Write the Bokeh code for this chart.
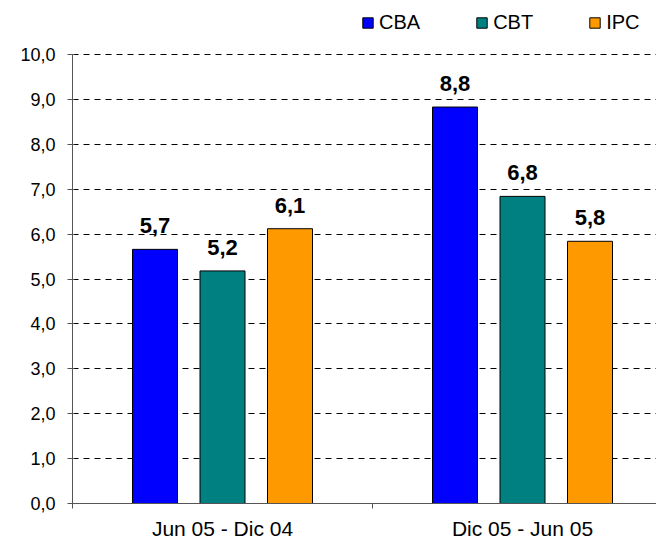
from bokeh.plotting import figure
from bokeh.models import ColumnDataSource, FixedTicker, Legend, LegendItem, Range1d
from bokeh.core.properties import value
from bokeh.embed import file_html
from bokeh.resources import INLINE

# ---- data ----
periods = ["Jun 05 - Dic 04", "Dic 05 - Jun 05"]
series = ["CBA", "CBT", "IPC"]
cba = [5.66, 8.83]
cbt = [5.18, 6.84]
ipc = [6.12, 5.84]
colors = ["#0000FF", "#008080", "#FF9900"]
y_ticks = [0, 1, 2, 3, 4, 5, 6, 7, 8, 9, 10]
y_tick_labels = ["0,0", "1,0", "2,0", "3,0", "4,0", "5,0", "6,0", "7,0", "8,0", "9,0", "10,0"]

FONT = "Liberation Sans"

W, H = 656, 542
LEFT, BOTTOM = 72, 39
frame_h = H - BOTTOM
px_per_unit = 44.9

p = figure(width=W, height=H, output_backend="svg", toolbar_location=None,
           x_range=Range1d(0, (W - LEFT) / 300), y_range=Range1d(0, frame_h / px_per_unit),
           min_border_left=LEFT, min_border_right=0, min_border_top=0,
           min_border_bottom=BOTTOM)
p.outline_line_color = None
p.background_fill_color = "white"
p.border_fill_color = "white"

offsets = [-0.225, 0.0, 0.225]
centers = [i + 0.5 for i in range(len(periods))]
renderers = []
for s, vals, col, off in zip(series, [cba, cbt, ipc], colors, offsets):
    src = ColumnDataSource(dict(
        x=[c + off for c in centers], top=vals,
        lab=[f"{round(v, 1):.1f}".replace(".", ",") for v in vals]))
    r = p.vbar(x="x", top="top", width=0.15, source=src, fill_color=col,
               line_color="black", line_width=1)
    renderers.append(r)
    p.text(x="x", y="top", text="lab", source=src, text_align="center",
           text_baseline="bottom", y_offset=-16, text_font=value(FONT),
           text_font_style="bold", text_font_size="22px", text_color="black")

# axes
p.yaxis.ticker = FixedTicker(ticks=y_ticks)
p.yaxis.bounds = (y_ticks[0], y_ticks[-1])
p.yaxis.major_label_overrides = {t: l for t, l in zip(y_ticks, y_tick_labels)}
p.yaxis.major_label_text_font = FONT
p.yaxis.major_label_text_font_size = "18px"
p.yaxis.major_label_text_color = "black"
p.yaxis.major_tick_out = 5
p.yaxis.major_tick_in = 2
p.yaxis.minor_tick_line_color = None
p.yaxis.axis_line_color = "#555555"
p.yaxis.major_tick_line_color = "#555555"
p.yaxis.major_label_standoff = 12

p.xaxis.ticker = FixedTicker(ticks=centers, minor_ticks=[0, 1, 2])
p.xaxis.major_label_overrides = {c: l for c, l in zip(centers, periods)}
p.xaxis.major_tick_line_color = None
p.xaxis.major_tick_out = 0
p.xaxis.major_tick_in = 0
p.xaxis.minor_tick_out = 5
p.xaxis.minor_tick_in = 0
p.xaxis.minor_tick_line_color = "#555555"
p.xaxis.axis_line_color = "#555555"
p.xaxis.major_label_text_font = FONT
p.xaxis.major_label_text_font_size = "21px"
p.xaxis.major_label_text_color = "black"
p.xaxis.major_label_standoff = 8

p.xgrid.grid_line_color = None
p.ygrid.ticker = FixedTicker(ticks=y_ticks[1:])
p.ygrid.grid_line_color = "black"
p.ygrid.grid_line_dash = "6 5"
p.ygrid.grid_line_width = 1

legend = Legend(items=[LegendItem(label=s, renderers=[r]) for s, r in zip(series, renderers)],
                orientation="horizontal", location=(289, frame_h - 34),
                glyph_width=13, glyph_height=13, label_standoff=5, spacing=55,
                padding=0, margin=0, border_line_color=None, background_fill_alpha=0,
                label_text_font=FONT, label_text_font_size="20px", label_text_color="black")
p.add_layout(legend, "center")

open("out.html", "w").write(file_html(p, INLINE))
